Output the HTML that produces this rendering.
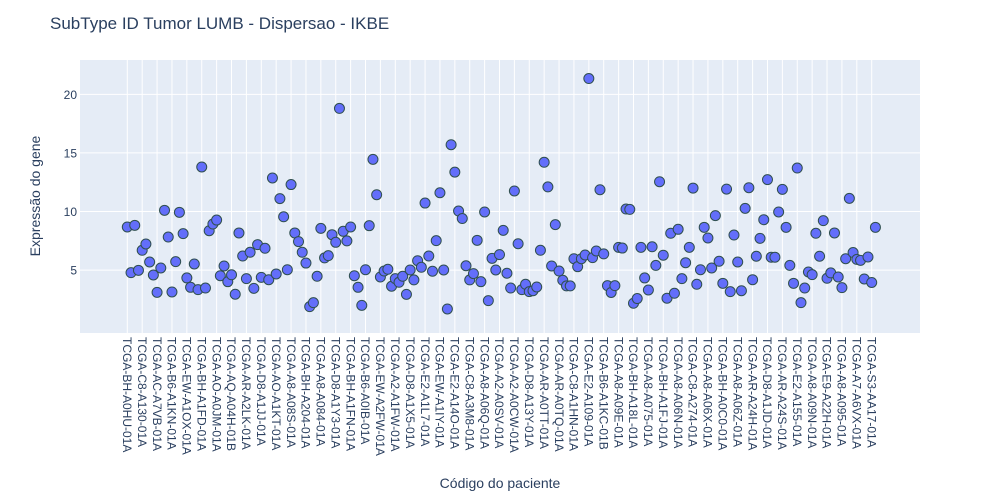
<!DOCTYPE html>
<html><head><meta charset="utf-8">
<style>
body{margin:0;background:#fff;}
svg{display:block;font-family:"Liberation Sans",Arial,sans-serif;}
</style></head>
<body>
<svg id="chart" width="1000" height="500" xmlns="http://www.w3.org/2000/svg">
<rect x="0" y="0" width="1000" height="500" fill="#fff"/>
<text x="50" y="29" font-size="17" fill="#2a3f5f">SubType ID Tumor LUMB - Dispersao - IKBE</text>
<rect x="80" y="60" width="840" height="273" fill="#e5ecf6"/>
<g id="grid"></g>
<g id="yticks"></g>
<g id="xticks"></g>
<g id="points"></g>
<text transform="translate(40,196) rotate(-90)" text-anchor="middle" font-size="14" fill="#2a3f5f">Expressão do gene</text>
<text x="500" y="488" text-anchor="middle" font-size="14" fill="#2a3f5f">Código do paciente</text>
</svg>
<script>
const values = [8.68,4.78,8.82,4.98,6.69,7.23,5.69,4.58,3.1,5.18,10.1,7.82,3.13,5.72,9.93,8.11,4.33,3.53,5.52,3.33,13.8,3.47,8.36,8.93,9.27,4.52,5.35,4.01,4.6,2.94,8.17,6.2,4.27,6.52,3.44,7.17,4.38,6.86,4.18,12.86,4.67,11.1,9.55,5.03,12.3,8.17,7.43,6.52,5.6,1.88,2.22,4.47,8.56,6.04,6.23,8.02,7.37,18.8,8.31,7.49,8.68,4.52,3.53,1.99,5.03,8.79,14.45,
11.43,4.41,4.92,5.07,3.62,4.27,3.96,4.47,2.93,5.01,4.16,5.8,5.24,10.72,6.2,4.9,7.51,11.6,5.01,1.68,15.7,13.36,10.04,9.4,5.37,4.16,4.7,7.54,4.01,9.96,2.39,6.0,5.01,6.32,8.39,4.73,3.47,11.75,7.25,3.33,3.79,3.16,3.24,3.56,6.69,14.2,12.1,5.35,8.88,4.92,4.13,3.65,3.65,5.97,5.29,5.97,6.29,21.35,6.06,6.63,11.86,6.38,3.67,3.09,3.67,6.94,6.88,10.21,10.18,
2.17,2.57,6.94,4.33,3.3,6.99,5.4,12.54,6.27,2.6,8.14,3.02,8.48,4.27,5.63,6.94,12.0,3.79,5.03,8.65,7.74,5.18,9.65,5.75,3.87,11.91,3.16,7.99,5.69,3.24,10.27,12.03,4.18,6.18,7.71,9.3,12.72,6.1,6.1,9.96,11.89,8.65,5.4,3.87,13.71,2.22,3.47,4.84,4.61,8.14,6.18,9.22,4.3,4.76,8.17,4.41,3.5,5.97,11.12,6.5,5.91,5.83,4.24,6.12,3.94,8.65];
const tickLabels = ["TCGA-BH-A0HU-01A","TCGA-C8-A130-01A","TCGA-AC-A7VB-01A","TCGA-B6-A1KN-01A","TCGA-EW-A1OX-01A","TCGA-BH-A1FD-01A","TCGA-AO-A0JM-01A","TCGA-AQ-A04H-01B","TCGA-AR-A2LK-01A","TCGA-D8-A1JJ-01A","TCGA-AO-A1KT-01A","TCGA-A8-A08S-01A","TCGA-BH-A204-01A","TCGA-A8-A084-01A","TCGA-D8-A1Y3-01A","TCGA-BH-A1FN-01A","TCGA-B6-A0IB-01A","TCGA-EW-A2FW-01A","TCGA-A2-A1FW-01A","TCGA-D8-A1X5-01A","TCGA-E2-A1L7-01A","TCGA-EW-A1IY-01A","TCGA-E2-A14O-01A","TCGA-C8-A3M8-01A","TCGA-A8-A06Q-01A","TCGA-A2-A0SV-01A","TCGA-A2-A0CW-01A","TCGA-D8-A13Y-01A","TCGA-AR-A0TT-01A","TCGA-AR-A0TQ-01A","TCGA-C8-A1HN-01A","TCGA-E2-A109-01A","TCGA-B6-A1KC-01B","TCGA-A8-A09E-01A","TCGA-BH-A18L-01A","TCGA-A8-A075-01A","TCGA-BH-A1FJ-01A","TCGA-A8-A06N-01A","TCGA-C8-A274-01A","TCGA-A8-A06X-01A","TCGA-BH-A0C0-01A","TCGA-A8-A06Z-01A","TCGA-AR-A24H-01A","TCGA-D8-A1JD-01A","TCGA-AR-A24S-01A","TCGA-E2-A155-01A","TCGA-A8-A09N-01A","TCGA-E9-A22H-01A","TCGA-A8-A095-01A","TCGA-A7-A6VX-01A","TCGA-S3-AA17-01A"];
const yTicks = [5,10,15,20];
const tickEvery = 4;

const NS="http://www.w3.org/2000/svg";
const plot={l:80,r:920,t:60,b:333};
const n=values.length;
const catStep=(871.7-127.3)/((tickLabels.length-1)*tickEvery);
function xPos(i){return 127.3+i*catStep;}
const yMin=-0.37,yMax=22.93;
function yPos(v){return plot.b-(v-yMin)/(yMax-yMin)*(plot.b-plot.t);}
function mk(tag,attrs,parent){const e=document.createElementNS(NS,tag);for(const k in attrs)e.setAttribute(k,attrs[k]);parent.appendChild(e);return e;}

const grid=document.getElementById('grid'),yt=document.getElementById('yticks'),xt=document.getElementById('xticks'),pts=document.getElementById('points');
yTicks.forEach(v=>{
  const y=yPos(v);
  const g=mk('line',{x1:plot.l,x2:plot.r,y1:y,y2:y,stroke:'#fff','stroke-width':1},grid);
  
  
  const t=mk('text',{x:77,y:y+4.5,'text-anchor':'end','font-size':12,fill:'#2a3f5f'},yt);
  t.textContent=v;
  
  
});
tickLabels.forEach((lab,k)=>{
  const x=xPos(k*tickEvery);
  const g=mk('line',{x1:x,x2:x,y1:plot.t,y2:plot.b,stroke:'#fff','stroke-width':1},grid);
  
  
  const t=mk('text',{transform:`translate(${x-4.3},337) rotate(90)`,'font-size':12,fill:'#2a3f5f'},xt);
  t.textContent=lab;
  
  
});
values.forEach((v,i)=>{
  const c=mk('circle',{cx:xPos(i),cy:yPos(v),r:5,fill:'#636efa',stroke:'#2f4f4f','stroke-width':1},pts);
  
  
});
</script>
</body></html>
